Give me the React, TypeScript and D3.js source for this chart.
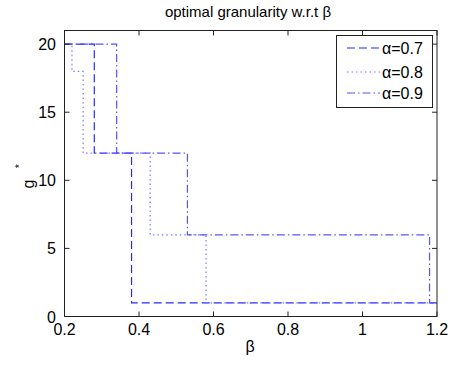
import React from "react";
import * as d3 from "d3";

const xTicks = [0.2, 0.4, 0.6, 0.8, 1, 1.2];
const yTicks = [0, 5, 10, 15, 20];

const beta07 = [0.2, 0.28, 0.38, 1.2];
const g07 = [20, 12, 1, 1];
const beta08 = [0.2, 0.22, 0.25, 0.43, 0.58, 1.2];
const g08 = [20, 18, 12, 6, 1, 1];
const beta09 = [0.2, 0.34, 0.53, 1.18, 1.2];
const g09 = [20, 12, 6, 1, 1];

const seriesLabels = ["α=0.7", "α=0.8", "α=0.9"];

const W = 458;
const H = 367;
const L = 64.5;
const R = 437;
const T = 30.5;
const B = 316.5;
const FONT = "'Liberation Sans', Arial, Helvetica, sans-serif";

export default function App() {
  const x = d3.scaleLinear().domain([0.2, 1.2]).range([L, R]);
  const y = d3.scaleLinear().domain([0, 21]).range([B, T]);
  const line = d3
    .line<[number, number]>()
    .x((d) => x(d[0]))
    .y((d) => y(d[1]))
    .curve(d3.curveStepAfter);

  const series = [
    { b: beta07, g: g07, color: "#2a2aff", dash: "8,4", label: seriesLabels[0] },
    { b: beta08, g: g08, color: "#7a7aff", dash: "1.5,3", label: seriesLabels[1] },
    { b: beta09, g: g09, color: "#5555ff", dash: "8,3,1.5,3", label: seriesLabels[2] },
  ];

  const legX = 336.5;
  const legY = 35.5;
  const legW = 96;
  const legH = 72;
  const rowY = [48, 72, 93];

  return (
    <svg
      width={W}
      height={H}
      style={{ position: "absolute", left: 0, top: 0, background: "#fff" }}
      fontFamily={FONT}
    >
      <rect x={0} y={0} width={W} height={H} fill="#fff" />
      {/* title */}
      <text x={248} y={17} fontSize={15} textAnchor="middle" fill="#000">
        optimal granularity w.r.t β
      </text>
      {/* data lines */}
      {series.map((s, i) => (
        <path
          key={i}
          d={line(s.b.map((b, j) => [b, s.g[j]] as [number, number])) || ""}
          fill="none"
          stroke={s.color}
          strokeWidth={1.2}
          strokeDasharray={s.dash}
        />
      ))}
      {/* axes box */}
      <rect x={L} y={T} width={R - L} height={B - T} fill="none" stroke="#222" strokeWidth={1} />
      {xTicks.map((t, i) => (
        <g key={"x" + i}>
          <line x1={x(t)} x2={x(t)} y1={B} y2={B - 5} stroke="#222" />
          <line x1={x(t)} x2={x(t)} y1={T} y2={T + 5} stroke="#222" />
          <text x={x(t)} y={335} fontSize={16} textAnchor="middle" fill="#000">
            {String(t)}
          </text>
        </g>
      ))}
      {yTicks.map((t, i) => (
        <g key={"y" + i}>
          <line x1={L} x2={L + 5} y1={y(t)} y2={y(t)} stroke="#222" />
          <line x1={R} x2={R - 5} y1={y(t)} y2={y(t)} stroke="#222" />
          <text x={56} y={y(t) + 6} fontSize={16} textAnchor="end" fill="#000">
            {String(t)}
          </text>
        </g>
      ))}
      {/* axis labels */}
      <text x={250} y={352} fontSize={16} textAnchor="middle" fill="#000">
        β
      </text>
      <text transform="translate(34,184) rotate(-90)" fontSize={16} textAnchor="middle" fill="#000">
        g
      </text>
      <text transform="translate(23,166) rotate(-90)" fontSize={11} textAnchor="middle" fill="#000">
        *
      </text>
      {/* legend */}
      <rect x={legX} y={legY} width={legW} height={legH} fill="#fff" stroke="#222" strokeWidth={1} />
      {series.map((s, i) => (
        <g key={"leg" + i}>
          <line
            x1={347}
            x2={380}
            y1={rowY[i]}
            y2={rowY[i]}
            stroke={s.color}
            strokeWidth={1.2}
            strokeDasharray={s.dash}
          />
          <text x={382} y={rowY[i] + 6} fontSize={16} fill="#000">
            {s.label}
          </text>
        </g>
      ))}
    </svg>
  );
}
